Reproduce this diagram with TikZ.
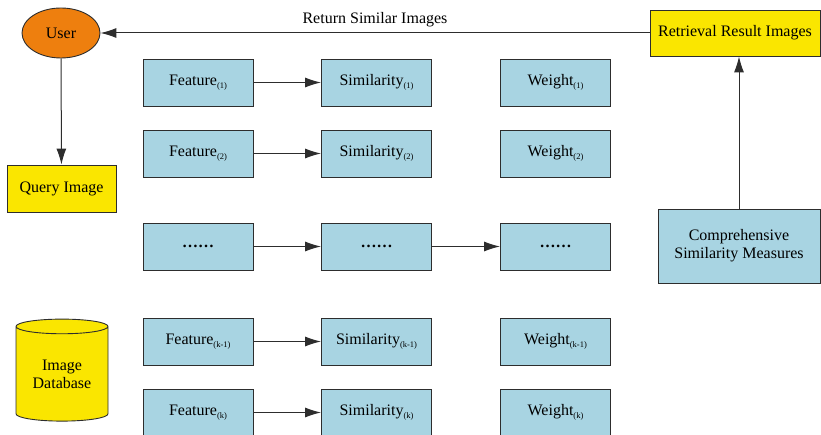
\documentclass[tikz,border=0pt]{standalone}
\usepackage{fontspec}
\setmainfont{Liberation Serif}
\usetikzlibrary{shapes.geometric,arrows.meta}
\definecolor{boxblue}{RGB}{168,212,226}
\definecolor{boxyellow}{RGB}{250,230,0}
\definecolor{userorange}{RGB}{238,127,14}
\definecolor{edgegray}{RGB}{45,45,45}
\newcommand{\sbx}[1]{\raisebox{-2.5pt}{\fontsize{8.5}{9}\selectfont(#1)}}
\begin{document}
\begin{tikzpicture}[x=1pt,y=-1pt,font=\fontsize{16}{18}\selectfont,
  blk/.style={draw=edgegray,line width=0.9pt,fill=boxblue,minimum width=110pt,minimum height=47pt,inner sep=0pt},
  ylw/.style={draw=edgegray,line width=0.9pt,fill=boxyellow,inner sep=0pt},
  arr/.style={draw=edgegray,line width=1pt,-{Latex[length=16pt,width=10pt]}}]
\useasboundingbox (0,0) rectangle (821,435);
\node[draw=edgegray,line width=0.9pt,fill=userorange,ellipse,minimum width=78pt,minimum height=50pt,inner sep=0pt] (user) at (61,33) {User};
\node[ylw,minimum width=170pt,minimum height=46pt] (result) at (735,33) {Retrieval Result Images};
\node[ylw,minimum width=109pt,minimum height=47pt] (query) at (61.5,188.5) {Query Image};
\node[ylw,cylinder,shape border rotate=90,aspect=0.25,minimum width=92pt,minimum height=102pt,align=center] (db) at (62,374) {Image\\Database};
\node[blk,minimum width=162pt,minimum height=74pt,align=center] (cmp) at (739,246) {Comprehensive\\Similarity Measures};
\node[blk] (f1) at (198,82.5) {Feature\sbx{1}};
\node[blk] (f2) at (198,153.5) {Feature\sbx{2}};
\node[blk] (f3) at (198,246.5) {\textbf{……}};
\node[blk] (f4) at (198,341.5) {Feature\sbx{k-1}};
\node[blk] (f5) at (198,412.5) {Feature\sbx{k}};
\node[blk] (s1) at (376.5,82.5) {Similarity\sbx{1}};
\node[blk] (s2) at (376.5,153.5) {Similarity\sbx{2}};
\node[blk] (s3) at (376.5,246.5) {\textbf{……}};
\node[blk] (s4) at (376.5,341.5) {Similarity\sbx{k-1}};
\node[blk] (s5) at (376.5,412.5) {Similarity\sbx{k}};
\node[blk] (w1) at (555.5,82.5) {Weight\sbx{1}};
\node[blk] (w2) at (555.5,153.5) {Weight\sbx{2}};
\node[blk] (w3) at (555.5,246.5) {\textbf{……}};
\node[blk] (w4) at (555.5,341.5) {Weight\sbx{k-1}};
\node[blk] (w5) at (555.5,412.5) {Weight\sbx{k}};
\path[arr] (result) -- node[above=2pt] (ret) {Return Similar Images} (user);
\path[arr] (user) -- (query);
\path[arr] (cmp.north) -- (cmp.north |- result.south);
\path[arr] (f1) -- (s1);
\path[arr] (f2) -- (s2);
\path[arr] (f3) -- (s3);
\path[arr] (s3) -- (w3);
\path[arr] (f4) -- (s4);
\path[arr] (f5) -- (s5);
\end{tikzpicture}
\end{document}
